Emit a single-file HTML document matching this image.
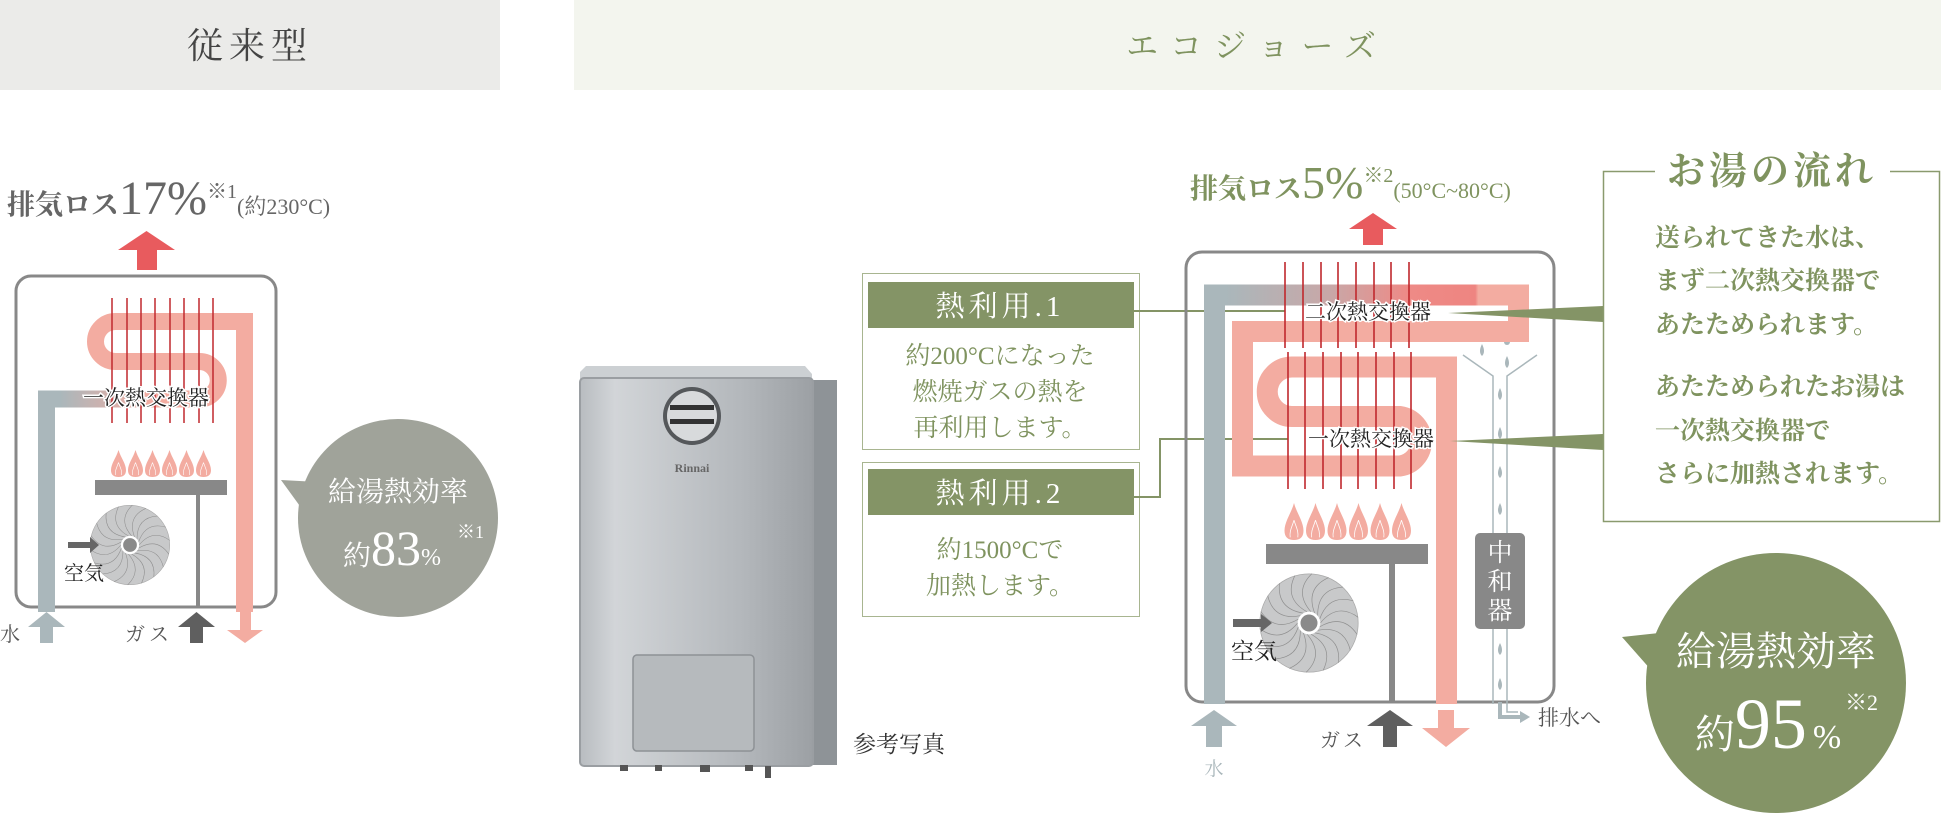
<!DOCTYPE html>
<html><head><meta charset="utf-8">
<style>
html,body{margin:0;padding:0;background:#fff;}
svg{display:block;}
text{font-family:"Liberation Serif","Noto Serif CJK SC","Noto Serif CJK JP",serif;}
</style></head>
<body>
<svg width="1941" height="818" viewBox="0 0 1941 818" xmlns="http://www.w3.org/2000/svg">
<defs>
  <symbol id="flame" viewBox="-10 -28 20 28" overflow="visible" preserveAspectRatio="none">
    <path d="M0,-28 C3,-20 10,-14 10,-7 C10,-2 6,0 0,0 C-6,0 -10,-2 -10,-7 C-10,-14 -3,-20 0,-28Z" fill="#f3aca1"/>
    <path d="M0,-15 C2,-10 5,-7 4,-2 M0,-15 C-2,-10 -5,-7 -4,-2" fill="none" stroke="#fff" stroke-width="0.8"/>
  </symbol>
  <symbol id="fan" viewBox="-55 -55 110 110" overflow="visible">
    <circle r="52" fill="#c8c9ca" stroke="#aaa" stroke-width="0.8"/>
    <g fill="none" stroke="#8e8e8e" stroke-width="0.7">
      <path d="M12,0 Q30,-22 52,-6" transform="rotate(0)"/>
      <path d="M12,0 Q30,-22 52,-6" transform="rotate(20)"/>
      <path d="M12,0 Q30,-22 52,-6" transform="rotate(40)"/>
      <path d="M12,0 Q30,-22 52,-6" transform="rotate(60)"/>
      <path d="M12,0 Q30,-22 52,-6" transform="rotate(80)"/>
      <path d="M12,0 Q30,-22 52,-6" transform="rotate(100)"/>
      <path d="M12,0 Q30,-22 52,-6" transform="rotate(120)"/>
      <path d="M12,0 Q30,-22 52,-6" transform="rotate(140)"/>
      <path d="M12,0 Q30,-22 52,-6" transform="rotate(160)"/>
      <path d="M12,0 Q30,-22 52,-6" transform="rotate(180)"/>
      <path d="M12,0 Q30,-22 52,-6" transform="rotate(200)"/>
      <path d="M12,0 Q30,-22 52,-6" transform="rotate(220)"/>
      <path d="M12,0 Q30,-22 52,-6" transform="rotate(240)"/>
      <path d="M12,0 Q30,-22 52,-6" transform="rotate(260)"/>
      <path d="M12,0 Q30,-22 52,-6" transform="rotate(280)"/>
      <path d="M12,0 Q30,-22 52,-6" transform="rotate(300)"/>
      <path d="M12,0 Q30,-22 52,-6" transform="rotate(320)"/>
      <path d="M12,0 Q30,-22 52,-6" transform="rotate(340)"/>
    </g>
    <circle r="12" fill="#fff"/>
    <circle r="9" fill="#8a8a8a"/>
  </symbol>
  <linearGradient id="gl" x1="60" y1="0" x2="150" y2="0" gradientUnits="userSpaceOnUse">
    <stop offset="0" stop-color="#aab7bb"/><stop offset="1" stop-color="#f3aca1"/>
  </linearGradient>
  <linearGradient id="gr" x1="1226" y1="0" x2="1530" y2="0" gradientUnits="userSpaceOnUse">
    <stop offset="0" stop-color="#aab7bb"/><stop offset="0.35" stop-color="#c9a7a7"/>
    <stop offset="0.6" stop-color="#ee8a86"/><stop offset="0.82" stop-color="#ee8581"/>
    <stop offset="0.83" stop-color="#f3aca1"/><stop offset="1" stop-color="#f3aca1"/>
  </linearGradient>
  <linearGradient id="dev" x1="0" y1="0" x2="1" y2="0">
    <stop offset="0" stop-color="#b8bcc0"/><stop offset="0.15" stop-color="#d2d5d8"/>
    <stop offset="0.7" stop-color="#b3b7bb"/><stop offset="1" stop-color="#9ca0a4"/>
  </linearGradient>
</defs>

<rect x="0" y="0" width="500" height="90" fill="#ebebe9"/>
<text x="250" y="58" font-size="36" fill="#444" text-anchor="middle" letter-spacing="6">従来型</text>
<rect x="574" y="0" width="1367" height="90" fill="#f3f5ee"/>
<text x="1257" y="57" font-size="32" fill="#7f935f" text-anchor="middle" letter-spacing="12">エコジョーズ</text>

<!-- LEFT -->
<text x="7" y="214" fill="#666"><tspan font-size="28" font-weight="bold">排気ロス</tspan><tspan font-size="48">17%</tspan><tspan font-size="20" dy="-16">※1</tspan><tspan font-size="22" dy="16">(約230°C)</tspan></text>
<path d="M137,270 V250 H118 L146.5,231 L175,250 H157 V270Z" fill="#e85b5e"/>
<rect x="16" y="276" width="260" height="331" rx="15" fill="none" stroke="#888" stroke-width="3"/>
<path d="M46.5,612 V399 H115" fill="none" stroke="#aab7bb" stroke-width="17"/>
<path d="M60,399 H199.5" fill="none" stroke="url(#gl)" stroke-width="17"/>
<path d="M199.5,399 A18.75,18.75 0 0 0 199.5,361.5 H115.5 A20,20 0 0 1 115.5,321.5 H244.5 V612" fill="none" stroke="#f3aca1" stroke-width="17"/>
<g stroke="#c0282d" stroke-width="1.5">
  <line x1="112" y1="298" x2="112" y2="423"/><line x1="127" y1="298" x2="127" y2="423"/>
  <line x1="141" y1="298" x2="141" y2="423"/><line x1="155" y1="298" x2="155" y2="423"/>
  <line x1="170" y1="298" x2="170" y2="423"/><line x1="184" y1="298" x2="184" y2="423"/>
  <line x1="199" y1="298" x2="199" y2="423"/><line x1="213" y1="298" x2="213" y2="423"/>
</g>
<text x="146" y="405" font-size="21" fill="#222" text-anchor="middle" stroke="#fff" stroke-width="3" paint-order="stroke">一次熱交換器</text>
<g>
  <use href="#flame" x="111" y="450" width="15" height="27"/>
  <use href="#flame" x="128" y="450" width="15" height="27"/>
  <use href="#flame" x="145" y="450" width="15" height="27"/>
  <use href="#flame" x="162" y="450" width="15" height="27"/>
  <use href="#flame" x="179" y="450" width="15" height="27"/>
  <use href="#flame" x="196" y="450" width="15" height="27"/>
</g>
<rect x="95" y="480" width="132" height="15" fill="#888"/>
<rect x="196" y="495" width="4" height="113" fill="#888"/>
<use href="#fan" x="88" y="503" width="84" height="84"/>
<path d="M68,542 H90 V537 L99,545 L90,553 V548 H68Z" fill="#666"/>
<text x="64" y="580" font-size="20" fill="#222">空気</text>
<text x="0" y="641" font-size="20" fill="#555">水</text>
<path d="M40,643 V627 H28 L46.5,612 L65,627 H53 V643Z" fill="#aab7bb"/>
<text x="125" y="641" font-size="20" fill="#555" letter-spacing="4">ガス</text>
<path d="M190,643 V627 H178 L196.5,612 L215,627 H203 V643Z" fill="#5f5f5f"/>
<path d="M240,612 V630 H227 L245,643 L263,630 H251 V612Z" fill="#f3aca1"/>
<path d="M281,480 L318,482 L310,520Z" fill="#a0a39a"/>
<ellipse cx="398" cy="518" rx="100" ry="99" fill="#a0a39a"/>
<text x="398" y="501" font-size="28" fill="#fff" text-anchor="middle">給湯熱効率</text>
<text x="392" y="565" fill="#fff" text-anchor="middle"><tspan font-size="28">約</tspan><tspan font-size="50">83</tspan><tspan font-size="24">%</tspan></text>
<text x="457" y="538" font-size="18" fill="#fff">※1</text>

<!-- DEVICE -->
<path d="M580,372 L586,366 H805 L812,374 V762 H580Z" fill="#ccd0d3"/>
<rect x="812" y="380" width="25" height="385" fill="#8e9397"/>
<rect x="580" y="378" width="233" height="388" rx="4" fill="url(#dev)" stroke="#9a9ea2" stroke-width="2"/>
<circle cx="692" cy="416" r="29" fill="#55585b"/>
<circle cx="692" cy="416" r="25" fill="#d8dadc"/>
<rect x="670" y="405" width="44" height="5" fill="#333"/>
<rect x="670" y="419" width="44" height="5" fill="#333"/>
<text x="692" y="472" font-size="12" font-family="Liberation Sans" font-weight="bold" fill="#666" text-anchor="middle">Rinnai</text>
<rect x="633" y="655" width="121" height="96" rx="4" fill="#b6babd" stroke="#8d9195" stroke-width="1.5"/>
<g fill="#555"><rect x="620" y="765" width="8" height="6"/><rect x="655" y="765" width="7" height="6"/><rect x="700" y="765" width="10" height="7"/><rect x="745" y="765" width="8" height="6"/><rect x="765" y="766" width="6" height="12"/></g>
<text x="853" y="752" font-size="23" fill="#333">参考写真</text>

<rect x="862.5" y="273.5" width="277" height="176" fill="#fff" stroke="#a8b590" stroke-width="1"/>
<rect x="868" y="282" width="266" height="46" fill="#849466"/>
<text x="1000" y="316" font-size="29" fill="#fff" text-anchor="middle" letter-spacing="4">熱利用.1</text>
<g font-size="25" fill="#7f935f" text-anchor="middle">
  <text x="1000" y="364">約200°Cになった</text>
  <text x="1000" y="400">燃焼ガスの熱を</text>
  <text x="1000" y="436">再利用します。</text>
</g>
<rect x="862.5" y="462.5" width="277" height="154" fill="#fff" stroke="#a8b590" stroke-width="1"/>
<rect x="868" y="469" width="266" height="46" fill="#849466"/>
<text x="1000" y="503" font-size="29" fill="#fff" text-anchor="middle" letter-spacing="4">熱利用.2</text>
<g font-size="25" fill="#7f935f" text-anchor="middle">
  <text x="1000" y="558">約1500°Cで</text>
  <text x="1000" y="594">加熱します。</text>
</g>
<g fill="none" stroke="#849466" stroke-width="2">
  <path d="M1134,311 H1285"/>
  <path d="M1134,497 H1160 V439 H1288"/>
</g>

<!-- RIGHT -->
<text x="1190" y="198" fill="#7f935f"><tspan font-size="28" font-weight="bold">排気ロス</tspan><tspan font-size="46">5%</tspan><tspan font-size="20" dy="-16">※2</tspan><tspan font-size="22" dy="16">(50°C~80°C)</tspan></text>
<path d="M1363,245 V229 H1349 L1373,213 L1397,229 H1383 V245Z" fill="#e85b5e"/>
<rect x="1186" y="252" width="368" height="450" rx="16" fill="none" stroke="#888" stroke-width="3"/>
<g fill="none" stroke="#aab7bb" stroke-width="1.5">
  <path d="M1463,355 L1493,376 V704"/>
  <path d="M1537,355 L1507,376 V712 H1518"/>
</g>
<path d="M1500,702 V717 H1522" fill="none" stroke="#aab7bb" stroke-width="4"/>
<path d="M1520,711 L1530,717 L1520,723Z" fill="#aab7bb"/>
<g fill="#aab7bb">
  <circle cx="1481" cy="330" r="3"/><circle cx="1503" cy="328" r="3"/><circle cx="1490" cy="338" r="2.5"/><circle cx="1507" cy="342" r="3"/>
  <path d="M1482,344 q4,8 0,12 q-4,-4 0,-12Z"/><path d="M1507,356 q4,8 0,12 q-4,-4 0,-12Z"/>
  <path d="M1500,388 q4,8 0,12 q-4,-4 0,-12Z"/><path d="M1500,427 q4,8 0,12 q-4,-4 0,-12Z"/>
  <path d="M1500,466 q4,8 0,12 q-4,-4 0,-12Z"/><path d="M1500,503 q4,8 0,12 q-4,-4 0,-12Z"/>
  <path d="M1500,643 q4,8 0,12 q-4,-4 0,-12Z"/><path d="M1500,678 q4,8 0,12 q-4,-4 0,-12Z"/>
</g>
<rect x="1475" y="533" width="50" height="96" rx="5" fill="#888"/>
<g font-size="25" fill="#fff" text-anchor="middle"><text x="1500" y="561">中</text><text x="1500" y="590">和</text><text x="1500" y="619">器</text></g>
<text x="1538" y="725" font-size="21" fill="#555">排水へ</text>
<path d="M1225,295 H1518.5 V331.5 H1242.5 V466 H1400 A25,25 0 0 0 1400,416.5 H1292 A24.75,24.75 0 0 1 1292,367 H1446.5 V704" fill="none" stroke="#f3aca1" stroke-width="21"/>
<path d="M1222,295 H1508" fill="none" stroke="url(#gr)" stroke-width="21"/>
<path d="M1214.5,704 V284.5" fill="none" stroke="#aab7bb" stroke-width="21"/>
<g stroke="#c0282d" stroke-width="1.6">
  <line x1="1285" y1="262" x2="1285" y2="348"/><line x1="1303" y1="262" x2="1303" y2="348"/>
  <line x1="1321" y1="262" x2="1321" y2="348"/><line x1="1338" y1="262" x2="1338" y2="348"/>
  <line x1="1356" y1="262" x2="1356" y2="348"/><line x1="1374" y1="262" x2="1374" y2="348"/>
  <line x1="1391" y1="262" x2="1391" y2="348"/><line x1="1409" y1="262" x2="1409" y2="348"/>
  <line x1="1288" y1="352" x2="1288" y2="489"/><line x1="1305" y1="352" x2="1305" y2="489"/>
  <line x1="1323" y1="352" x2="1323" y2="489"/><line x1="1341" y1="352" x2="1341" y2="489"/>
  <line x1="1358" y1="352" x2="1358" y2="489"/><line x1="1376" y1="352" x2="1376" y2="489"/>
  <line x1="1394" y1="352" x2="1394" y2="489"/><line x1="1411" y1="352" x2="1411" y2="489"/>
</g>
<g font-size="21" fill="#222" text-anchor="middle" stroke="#fff" stroke-width="3" paint-order="stroke">
  <text x="1368" y="319">二次熱交換器</text>
  <text x="1371" y="446">一次熱交換器</text>
</g>
<path d="M1448,313 L1603,306 L1603,322Z" fill="#849466"/>
<path d="M1450,441 L1603,434 L1603,450Z" fill="#849466"/>
<g>
  <use href="#flame" x="1284.5" y="503" width="19" height="37"/>
  <use href="#flame" x="1306" y="503" width="19" height="37"/>
  <use href="#flame" x="1327.5" y="503" width="19" height="37"/>
  <use href="#flame" x="1349" y="503" width="19" height="37"/>
  <use href="#flame" x="1370.5" y="503" width="19" height="37"/>
  <use href="#flame" x="1392" y="503" width="19" height="37"/>
</g>
<rect x="1266" y="544" width="162" height="20" fill="#888"/>
<rect x="1389" y="564" width="6" height="138" fill="#888"/>
<use href="#fan" x="1257" y="571" width="104" height="104"/>
<path d="M1233,619 H1261 V614 L1272,623 L1261,632 V627 H1233Z" fill="#666"/>
<text x="1231" y="659" font-size="23" fill="#222">空気</text>
<path d="M1206,747 V726 H1191 L1214,710 L1237,726 H1222 V747Z" fill="#aab7bb"/>
<text x="1214" y="775" font-size="19" fill="#aab7bb" text-anchor="middle">水</text>
<text x="1320" y="747" font-size="20" fill="#555" letter-spacing="3">ガス</text>
<path d="M1383,747 V726 H1367 L1390,710 L1413,726 H1397 V747Z" fill="#5f5f5f"/>
<path d="M1438,710 V728 H1422 L1446,747 L1470,728 H1454 V710Z" fill="#f3aca1"/>

<rect x="1603.5" y="171.5" width="336" height="350" fill="none" stroke="#8a9a6e" stroke-width="1.5"/>
<rect x="1655" y="150" width="235" height="40" fill="#fff"/>
<text x="1772" y="184" font-size="38" fill="#7f935f" text-anchor="middle" font-weight="bold" letter-spacing="4">お湯の流れ</text>
<g font-size="25" fill="#7f935f" font-weight="bold">
  <text x="1655" y="246">送られてきた水は、</text>
  <text x="1655" y="289">まず二次熱交換器で</text>
  <text x="1655" y="333">あたためられます。</text>
  <text x="1655" y="395">あたためられたお湯は</text>
  <text x="1655" y="439">一次熱交換器で</text>
  <text x="1655" y="482">さらに加熱されます。</text>
</g>

<path d="M1622,637 L1668,632 L1660,680Z" fill="#849466"/>
<circle cx="1776" cy="683" r="130" fill="#849466"/>
<text x="1776" y="665" font-size="40" fill="#fff" text-anchor="middle">給湯熱効率</text>
<text x="1768" y="748" fill="#fff" text-anchor="middle"><tspan font-size="40">約</tspan><tspan font-size="72">95</tspan><tspan font-size="34" dx="6">%</tspan></text>
<text x="1845" y="710" font-size="22" fill="#fff">※2</text>
</svg>
</body></html>
